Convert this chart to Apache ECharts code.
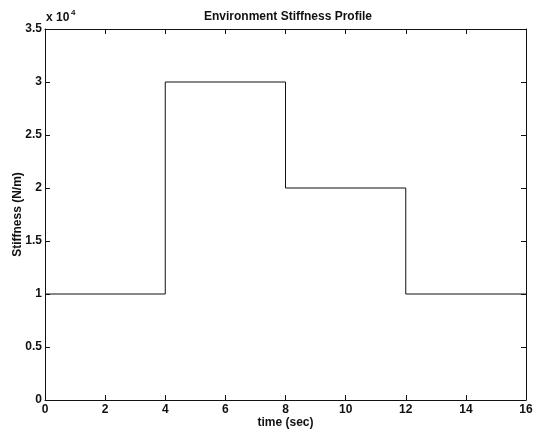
<!DOCTYPE html>
<html>
<head>
<meta charset="utf-8">
<script src="https://cdn.jsdelivr.net/npm/echarts@6/dist/echarts.min.js"></script>
<style>
  html, body { margin: 0; padding: 0; background: #fff; }
  #chart { width: 535px; height: 431px; }
</style>
</head>
<body>
<div id="chart"></div>
<script>
// step profile: value holds from each time until the next one
const times = [0, 4, 8, 12, 16]
const stiffness = [10000, 30000, 20000, 10000, 10000]
const xTicks = [0, 2, 4, 6, 8, 10, 12, 14, 16]
const yTicks = [0, 0.5, 1, 1.5, 2, 2.5, 3, 3.5]

const font = 'Liberation Sans, Arial, sans-serif'
const ink = '#111'

const chart = echarts.init(document.getElementById('chart'))

function tickAxis(extra) {
    return Object.assign({
        axisLine: { show: true, onZero: false, lineStyle: { color: ink, width: 1 } },
        axisTick: { show: true, inside: true, length: 5, lineStyle: { color: ink } },
        splitLine: { show: false },
        axisLabel: { show: true, color: ink, fontFamily: font, fontSize: 12 }
    }, extra)
}

const option = {
    animation: false,
    backgroundColor: '#fff',
    title: {
        text: 'Environment Stiffness Profile',
        left: 283, top: 6, textAlign: 'center',
        textStyle: { color: ink, fontFamily: font, fontSize: 12, fontWeight: 'bold' }
    },
    grid: { left: 45, right: 9, top: 29, bottom: 31, containLabel: false, outerBoundsMode: 'none' },
    xAxis: [
        tickAxis({
            type: 'value', min: 0, max: 16, interval: 2,
            name: 'time (sec)', nameLocation: 'middle', nameGap: 17, nameMoveOverlap: false,
            nameTextStyle: { color: ink, fontFamily: font, fontSize: 12, fontWeight: 'bold' },
            axisLabel: { color: ink, fontFamily: font, fontSize: 12, fontWeight: 'bold', margin: 4,
                formatter: v => String(xTicks[Math.round(v / 2)]) }
        }),
        tickAxis({
            type: 'value', position: 'top', min: 0, max: 16, interval: 2,
            axisLabel: { show: false }
        })
    ],
    yAxis: [
        tickAxis({
            type: 'value', min: 0, max: 35000, interval: 5000,
            name: 'Stiffness (N/m)', nameLocation: 'middle', nameGap: 21, nameMoveOverlap: false,
            nameTextStyle: { color: ink, fontFamily: font, fontSize: 12, fontWeight: 'bold' },
            axisLabel: {
                color: ink, fontFamily: font, fontSize: 12, fontWeight: 'bold', margin: 3,
                formatter: v => String(yTicks[Math.round(v / 5000)])
            }
        }),
        tickAxis({
            type: 'value', position: 'right', min: 0, max: 35000, interval: 5000,
            axisLabel: { show: false }
        })
    ],
    graphic: [{
        type: 'text', left: 46, top: 12,
        style: { text: 'x 10', fill: ink, font: 'bold 12px ' + font }
    }, {
        type: 'text', left: 71, top: 9,
        style: { text: '4', fill: ink, font: 'bold 8px ' + font }
    }],
    series: [{
        type: 'line',
        step: 'end',
        showSymbol: false,
        lineStyle: { color: ink, width: 1 },
        data: times.map((t, i) => [t, stiffness[i]])
    }]
}

chart.setOption(option)
</script>
</body>
</html>
